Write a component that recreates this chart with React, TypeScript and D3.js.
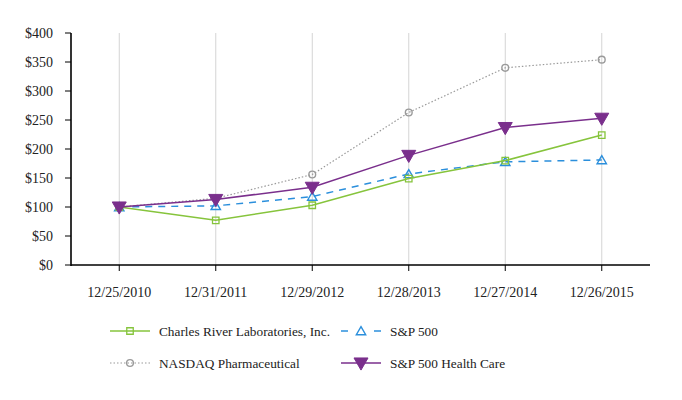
import { scalePoint, scaleLinear, line, symbol, symbolSquare, symbolTriangle, symbolCircle } from 'd3';

const dates = ['12/25/2010', '12/31/2011', '12/29/2012', '12/28/2013', '12/27/2014', '12/26/2015'];
const crl = [100, 77, 103, 149, 180, 224];
const sp500 = [100, 102, 118, 157, 178, 181];
const nasdaqPharma = [100, 115, 156, 263, 340, 354];
const spHealth = [100, 113, 134, 189, 237, 253];
const yTicks = [0, 50, 100, 150, 200, 250, 300, 350, 400];

const W = 682;
const H = 400;
const margin = { top: 33, right: 32, bottom: 135, left: 71 };

type Series = {
  name: string;
  values: number[];
  color: string;
  dash?: string;
  width: number;
  marker: 'square' | 'triangle' | 'circle' | 'down';
};

const series: Series[] = [
  { name: 'NASDAQ Pharmaceutical', values: nasdaqPharma, color: '#9a9a9a', dash: '1.5 2', width: 1.2, marker: 'circle' },
  { name: 'S&P 500', values: sp500, color: '#2b8fdc', dash: '7 6', width: 1.5, marker: 'triangle' },
  { name: 'Charles River Laboratories, Inc.', values: crl, color: '#86c43c', width: 1.5, marker: 'square' },
  { name: 'S&P 500 Health Care', values: spHealth, color: '#7a2f8c', width: 1.5, marker: 'down' },
];

const legendOrder = ['Charles River Laboratories, Inc.', 'S&P 500', 'NASDAQ Pharmaceutical', 'S&P 500 Health Care'];

function Marker({ s, x, y }: { s: Series; x: number; y: number }) {
  if (s.marker === 'square') {
    return <path d={symbol(symbolSquare, 42)()!} transform={`translate(${x},${y})`} fill="none" stroke={s.color} strokeWidth={1.3} />;
  }
  if (s.marker === 'triangle') {
    return <path d={symbol(symbolTriangle, 38)()!} transform={`translate(${x},${y + 1})`} fill="none" stroke={s.color} strokeWidth={1.4} />;
  }
  if (s.marker === 'circle') {
    return <path d={symbol(symbolCircle, 36)()!} transform={`translate(${x},${y})`} fill="none" stroke={s.color} strokeWidth={1.4} />;
  }
  return <path d={symbol(symbolTriangle, 85)()!} transform={`translate(${x},${y - 1}) rotate(180)`} fill={s.color} stroke={s.color} strokeWidth={1} />;
}

export default function App() {
  const x = scalePoint<string>().domain(dates).range([margin.left, W - margin.right]).padding(0.5);
  const y = scaleLinear().domain([0, 400]).range([H - margin.bottom, margin.top]);
  const y0 = y(0);
  const font = "'Liberation Serif', 'Times New Roman', Times, serif";

  return (
    <svg width={W} height={H} style={{ position: 'absolute', left: 0, top: 0, background: '#fff', fontFamily: font }}>
      {dates.map((d) => (
        <line key={d} x1={x(d)} x2={x(d)} y1={y(400)} y2={y0} stroke="#d4d4d4" strokeWidth={1} />
      ))}
      {yTicks.map((t) => (
        <g key={t}>
          <line x1={margin.left - 6} x2={margin.left} y1={y(t)} y2={y(t)} stroke="#000" />
          <text x={53} y={y(t)} dy="0.35em" textAnchor="end" fontSize={14} fill="#222">${t}</text>
        </g>
      ))}
      {dates.map((d) => (
        <g key={d}>
          <line x1={x(d)} x2={x(d)} y1={y0} y2={y0 + 6} stroke="#000" />
          <text x={x(d)} y={y0 + 32} textAnchor="middle" fontSize={14} fill="#222">{d}</text>
        </g>
      ))}
      <line x1={margin.left} x2={margin.left} y1={y(400)} y2={y0 + 1} stroke="#000" strokeWidth={1.6} />
      <line x1={margin.left} x2={W - margin.right} y1={y0} y2={y0} stroke="#000" strokeWidth={1.6} />

      {series.map((s) => {
        const gen = line<number>().x((_, i) => x(dates[i])!).y((v) => y(v));
        return (
          <g key={s.name}>
            <path d={gen(s.values)!} fill="none" stroke={s.color} strokeWidth={s.width} strokeDasharray={s.dash} />
            {s.values.map((v, i) => (
              <Marker key={i} s={s} x={x(dates[i])!} y={y(v)} />
            ))}
          </g>
        );
      })}

      {legendOrder.map((name, i) => {
        const s = series.find((d) => d.name === name)!;
        const lx = i % 2 === 0 ? 110 : 341;
        const ly = i < 2 ? 331 : 363;
        const isDashed = s.dash === '7 6';
        return (
          <g key={name}>
            {isDashed ? (
              <g>
                <line x1={lx} x2={lx + 7} y1={ly} y2={ly} stroke={s.color} strokeWidth={s.width} />
                <line x1={lx + 33} x2={lx + 40} y1={ly} y2={ly} stroke={s.color} strokeWidth={s.width} />
              </g>
            ) : (
              <line x1={lx} x2={lx + 40} y1={ly} y2={ly} stroke={s.color} strokeWidth={s.width} strokeDasharray={s.dash} />
            )}
            <Marker s={s} x={lx + 20} y={ly} />
            <text x={lx + 49} y={ly} dy="0.35em" fontSize={13.3} fill="#222">{name}</text>
          </g>
        );
      })}
    </svg>
  );
}
